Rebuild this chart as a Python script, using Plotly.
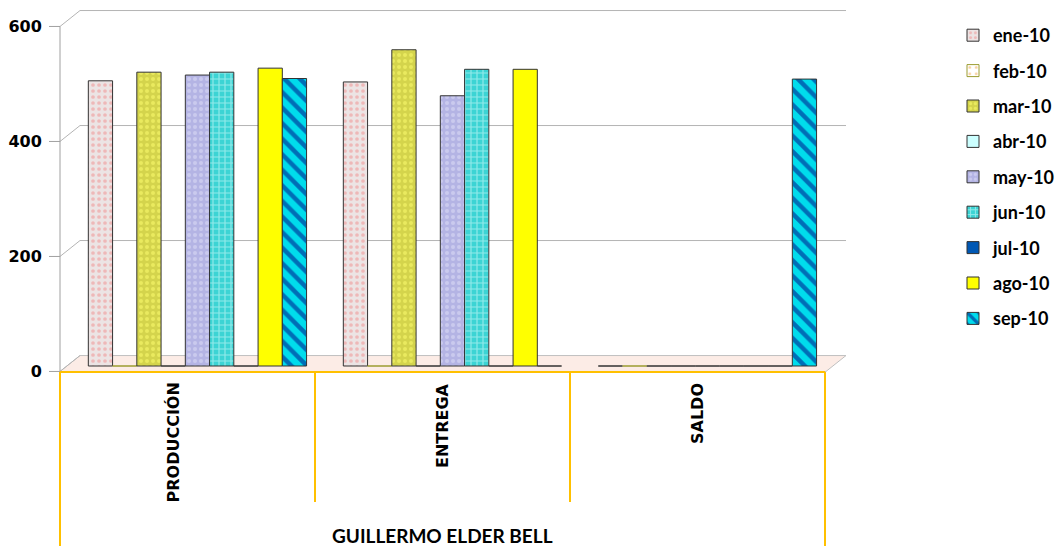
import plotly.graph_objects as go

categories = ["PRODUCCIÓN", "ENTREGA", "SALDO"]
group_label = "GUILLERMO ELDER BELL"
months = ["ene-10", "feb-10", "mar-10", "abr-10", "may-10", "jun-10", "jul-10", "ago-10", "sep-10"]

ene_10 = [496, 494, 0]
feb_10 = [0, 0, 0]
mar_10 = [511, 550, 0]
abr_10 = [0, 0, 0]
may_10 = [506, 470, 0]
jun_10 = [511, 516, 0]
jul_10 = [0, 0, 0]
ago_10 = [518, 516, 0]
sep_10 = [500, 0, 499]

y_ticks = [0, 200, 400, 600]

series = [ene_10, feb_10, mar_10, abr_10, may_10, jun_10, jul_10, ago_10, sep_10]

styles = [
    dict(color="#ece4e4", shape=".", fg="#f08c8c", size=6, sol=0.3),
    dict(color="#ffffff", shape=".", fg="#f0a040", size=8, sol=0.15),
    dict(color="#d4d44c", shape=".", fg="#ffff70", size=6, sol=0.35),
    dict(color="#ccffff", shape="", fg="#000000", size=6, sol=0.3),
    dict(color="#b4b4e4", shape=".", fg="#e0e0f8", size=6, sol=0.35),
    dict(color="#3cd4d4", shape="+", fg="#e6ffff", size=6, sol=0.35),
    dict(color="#0058b4", shape="", fg="#000000", size=6, sol=0.3),
    dict(color="#ffff00", shape="", fg="#000000", size=6, sol=0.3),
    dict(color="#00dcec", shape="\\", fg="#000080", size=11, sol=0.4),
]
line_colors = ["#333333", "#9c9c30", "#333333", "#333333", "#333333",
               "#333333", "#333333", "#333333", "#333333"]

w = 0.0951
shift = 0.039

fig = go.Figure()
for i, (name, vals) in enumerate(zip(months, series)):
    st = styles[i]
    pattern = dict(shape=st["shape"], fgcolor=st["fg"], size=st["size"],
                   solidity=st["sol"], bgcolor=st["color"])
    fig.add_trace(go.Bar(
        x=categories, y=vals, name=name,
        width=w, offset=shift + (i - 4.5) * w,
        marker=dict(color=st["color"], line=dict(color=line_colors[i], width=1),
                    pattern=pattern),
        legendgroup=name,
    ))

# geometry helpers (pixel layout)
top_px, bot_px = 10, 372
zero_px = 366
scale = 0.575  # px per unit
ymin = -(bot_px - zero_px) / scale
ymax = (zero_px - top_px) / scale
front_off = -9.5
back_off = 18.2
x_back_l = 20 / 765
x_back_r = (846 - 60) / 765
x_front_r = (826 - 60) / 765

shapes = []
# floor
shapes.append(dict(type="path", xref="paper", yref="y", layer="below",
                   path=f"M 0,{front_off} L {x_back_l},{back_off} L {x_back_r},{back_off} L {x_front_r},{front_off} Z",
                   fillcolor="#fcece6", line=dict(color="#c0c0c0", width=1)))
for v in y_ticks:
    if v > 0:
        shapes.append(dict(type="line", xref="paper", yref="y", layer="below",
                           x0=x_back_l, x1=x_back_r, y0=v + back_off, y1=v + back_off,
                           line=dict(color="#b4b4b4", width=1)))
    shapes.append(dict(type="line", xref="paper", yref="y", layer="below",
                       x0=0, x1=x_back_l, y0=v + front_off, y1=v + back_off,
                       line=dict(color="#b4b4b4", width=1)))
    shapes.append(dict(type="line", xref="paper", yref="y", layer="below",
                       x0=-11 / 765, x1=0, y0=v + front_off, y1=v + front_off,
                       line=dict(color="#a0a0a0", width=1)))
# front axis line
shapes.append(dict(type="line", xref="paper", yref="y", layer="below",
                   x0=0, x1=0, y0=front_off, y1=y_ticks[-1] + front_off,
                   line=dict(color="#a0a0a0", width=1)))
# category boxes
ph = bot_px - top_px
inner_bottom = -(502 - bot_px) / ph
outer_bottom = -(546 - bot_px) / ph
n = len(categories)
for k in range(n + 1):
    yb = outer_bottom if k in (0, n) else inner_bottom
    shapes.append(dict(type="line", xref="x domain", yref="paper",
                       x0=k / n, x1=k / n, y0=0, y1=yb,
                       line=dict(color="#ffc000", width=2)))
shapes.append(dict(type="line", xref="x domain", yref="paper",
                   x0=0, x1=1, y0=0, y1=0, line=dict(color="#ffc000", width=2)))

annotations = []
label_shift = [-15, 0, 0]
for k, c in enumerate(categories):
    annotations.append(dict(x=c, xref="x", y=-(381 - bot_px) / ph, yref="paper",
                            text=c, textangle=-90, showarrow=False,
                            xanchor="center", yanchor="top", xshift=label_shift[k],
                            font=dict(family="DejaVu Sans", size=16, color="black", weight="bold")))
annotations.append(dict(x=categories[1], xref="x", y=-(535 - bot_px) / ph, yref="paper",
                        text=group_label, showarrow=False, xanchor="center", yanchor="middle",
                        font=dict(family="Lato", size=19, color="black", weight="bold")))

fig.update_layout(
    width=1062, height=546,
    margin=dict(l=60, r=237, t=top_px, b=546 - bot_px, pad=0, autoexpand=False),
    paper_bgcolor="white", plot_bgcolor="rgba(0,0,0,0)",
    barmode="overlay",
    font=dict(family="DejaVu Sans", color="black"),
    showlegend=True,
    legend=dict(x=(953 - 60) / 765, xanchor="left", y=(bot_px - 17) / ph, yanchor="top",
                font=dict(family="Lato", size=18, color="black", weight="bold"),
                tracegroupgap=9, bgcolor="rgba(0,0,0,0)", itemwidth=30),
    shapes=shapes,
    annotations=annotations,
)
fig.update_xaxes(showticklabels=False, showgrid=False, zeroline=False, showline=False,
                 ticks="", range=[-0.5, 2.5])
fig.update_yaxes(range=[ymin, ymax], tickvals=y_ticks, showgrid=False, zeroline=False,
                 showline=False, ticks="outside", ticklen=12, tickcolor="rgba(0,0,0,0)",
                 ticklabelshift=5, ticklabelstandoff=2,
                 tickfont=dict(family="DejaVu Sans", size=16, color="black", weight="bold"))

fig.write_html("out.html")
